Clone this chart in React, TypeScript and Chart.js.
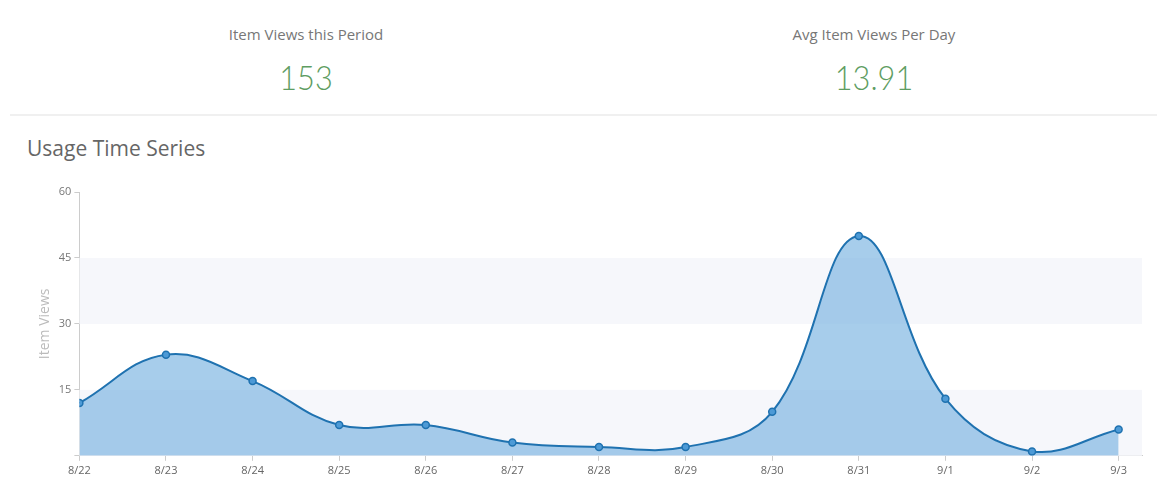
import React, { useEffect, useRef } from "react";
import { Chart, registerables } from "chart.js";

Chart.register(...registerables);

const dateLabels = ["8/22", "8/23", "8/24", "8/25", "8/26", "8/27", "8/28", "8/29", "8/30", "8/31", "9/1", "9/2", "9/3"];
const itemViews = [12, 23, 17, 7, 7, 3, 2, 2, 10, 50, 13, 1, 6];
const yTicks = [0, 15, 30, 45, 60];
const bandRanges: [number, number][] = [[0, 15], [30, 45]];
const statLabels = ["Item Views this Period", "Avg Item Views Per Day"];
const statValues = ["153", "13.91"];

const FONT = "'Open Sans', Lato, sans-serif";
const NUM_FONT = "Lato, 'Open Sans', sans-serif";

const bandPlugin = {
  id: "bands",
  beforeDatasetsDraw(chart: any) {
    const { ctx, chartArea, scales } = chart;
    const y = scales.y;
    ctx.save();
    ctx.fillStyle = "#f6f7fb";
    for (const [a, b] of bandRanges) {
      const y1 = y.getPixelForValue(b);
      const y2 = y.getPixelForValue(a);
      ctx.fillRect(chartArea.left, y1, chartArea.right - chartArea.left, y2 - y1);
    }
    ctx.restore();
  },
};

function UsageChart() {
  const ref = useRef<HTMLCanvasElement | null>(null);
  useEffect(() => {
    if (!ref.current) return;
    const chart = new Chart(ref.current, {
      type: "line",
      data: {
        datasets: [
          {
            data: itemViews.map((v, i) => ({ x: i, y: v })),
            borderColor: "#1f72b0",
            borderWidth: 2,
            backgroundColor: "rgba(120,178,224,0.65)",
            fill: "origin",
            tension: 0.4,
            pointRadius: 3.5,
            pointBackgroundColor: "#4d9ad6",
            pointBorderColor: "#1f72b0",
            pointBorderWidth: 1.5,
          },
        ],
      },
      options: {
        animation: false,
        responsive: false,
        maintainAspectRatio: false,
        layout: { padding: { left: 35, right: 15, top: 17, bottom: 7 } },
        plugins: { legend: { display: false }, tooltip: { enabled: false } },
        scales: {
          x: {
            type: "linear",
            min: 0,
            max: 12.27,
            afterBuildTicks: (axis: any) => {
              axis.ticks = dateLabels.map((_, i) => ({ value: i }));
            },
            ticks: {
              autoSkip: false,
              maxRotation: 0,
              color: "#666",
              font: { family: FONT, size: 11 },
              padding: 3,
              callback: (v: any) => (dateLabels[v] !== undefined ? dateLabels[v] : ""),
            },
            grid: { display: true, drawOnChartArea: false, tickLength: 5, color: "#ccc" },
            border: { display: true, color: "#ccc" },
          },
          y: {
            min: 0,
            max: 60,
            afterBuildTicks: (axis: any) => {
              axis.ticks = yTicks.map((v) => ({ value: v }));
            },
            ticks: {
              color: "#777",
              font: { family: FONT, size: 11 },
              padding: 3,
              callback: (v: any) => (v === 0 ? "" : String(v)),
            },
            grid: { display: true, drawOnChartArea: false, tickLength: 5, color: "#ccc" },
            border: { display: true, color: "#ccc" },
            title: {
              display: true,
              text: "Item Views",
              color: "#bbb",
              font: { family: FONT, size: 14 },
              padding: 2,
            },
          },
        },
      },
      plugins: [bandPlugin],
    });
    return () => chart.destroy();
  }, []);
  return <canvas ref={ref} width={1157} height={312} style={{ position: "absolute", left: 0, top: 175, width: 1157, height: 312 }} />;
}

export default function App() {
  const centers = [306, 874];
  return (
    <div style={{ position: "absolute", left: 0, top: 0, width: 1157, height: 487, background: "#fff", fontFamily: FONT, overflow: "hidden" }}>
      {statLabels.map((lab, i) => (
        <div key={lab} style={{ position: "absolute", left: centers[i] - 200, width: 400, top: 0, textAlign: "center" }}>
          <div style={{ position: "absolute", top: 25, width: 400, fontSize: 15, lineHeight: "18px", color: "#777", fontWeight: 400 }}>{lab}</div>
          <div style={{ position: "absolute", top: 58, width: 400, fontSize: 33, lineHeight: "38px", color: "#5e9d62", fontWeight: 300, fontFamily: NUM_FONT, transform: "scaleX(0.93)" }}>{statValues[i]}</div>
        </div>
      ))}
      <div style={{ position: "absolute", left: 10, right: 0, top: 114, height: 2, background: "#f0f0f0" }} />
      <div style={{ position: "absolute", left: 27, top: 136, fontSize: 21, lineHeight: "25px", color: "#666" }}>Usage Time Series</div>
      <UsageChart />
    </div>
  );
}
